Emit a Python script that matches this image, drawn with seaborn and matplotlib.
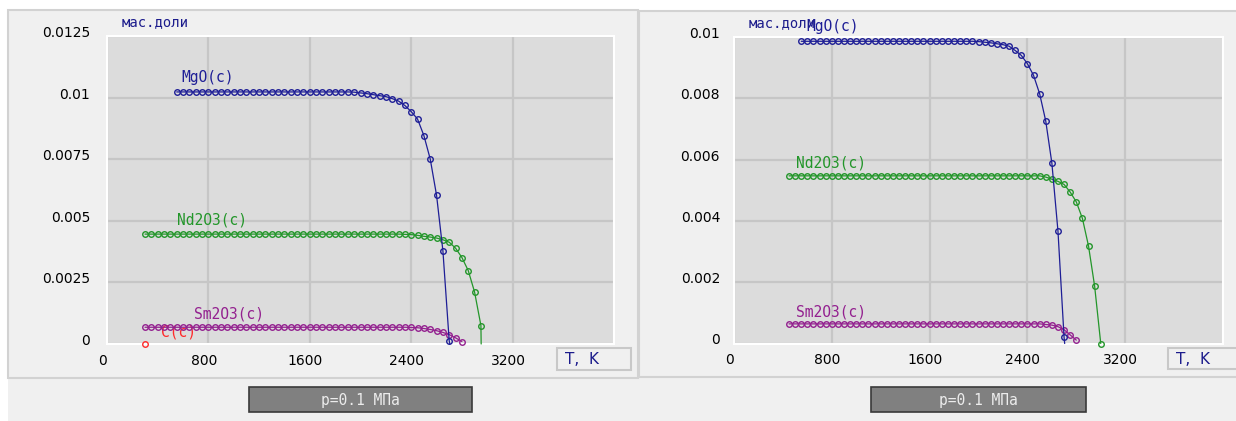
import matplotlib
matplotlib.use("Agg")
import matplotlib.pyplot as plt
import matplotlib.transforms as mtransforms
from matplotlib.patches import Rectangle
import seaborn as sns
import pandas as pd

# --- datos: fracciones masicas de fases condensadas, paso 50 K ---
# panel izquierdo
t_mgo_izq = list(range(550, 2701, 50))
mgo_izq = [0.01023, 0.01023, 0.01023, 0.01023, 0.01023, 0.01023, 0.01023, 0.01023, 0.01023, 0.01023,
           0.01023, 0.01023, 0.01023, 0.01023, 0.01023, 0.01023, 0.01023, 0.01023, 0.01023, 0.01023,
           0.01023, 0.01023, 0.01023, 0.01023, 0.01023, 0.01023, 0.01023, 0.01023, 0.01022, 0.01019,
           0.01016, 0.01012, 0.01008, 0.01004, 0.00996, 0.00986, 0.00968, 0.00943, 0.00913, 0.00846,
           0.00751, 0.00604, 0.00379, 0.00012]
t_nd_izq = list(range(300, 2951, 50))
nd_izq = [0.00446, 0.00446, 0.00446, 0.00446, 0.00446, 0.00446, 0.00446, 0.00446, 0.00446, 0.00446,
          0.00446, 0.00446, 0.00446, 0.00446, 0.00446, 0.00446, 0.00446, 0.00446, 0.00446, 0.00446,
          0.00446, 0.00446, 0.00446, 0.00446, 0.00446, 0.00446, 0.00446, 0.00446, 0.00446, 0.00446,
          0.00446, 0.00446, 0.00446, 0.00446, 0.00446, 0.00446, 0.00446, 0.00446, 0.00446, 0.00446,
          0.00446, 0.00445, 0.00444, 0.00441, 0.00437, 0.00434, 0.00430, 0.00423, 0.00413, 0.00389,
          0.00351, 0.00298, 0.00211, 0.00075]
t_sm_izq = list(range(300, 2801, 50))
sm_izq = [0.00068, 0.00068, 0.00068, 0.00068, 0.00068, 0.00068, 0.00068, 0.00068, 0.00068, 0.00068,
          0.00068, 0.00068, 0.00068, 0.00068, 0.00068, 0.00068, 0.00068, 0.00068, 0.00068, 0.00068,
          0.00068, 0.00068, 0.00068, 0.00068, 0.00068, 0.00068, 0.00068, 0.00068, 0.00068, 0.00068,
          0.00068, 0.00068, 0.00068, 0.00068, 0.00068, 0.00068, 0.00068, 0.00068, 0.00068, 0.00068,
          0.00068, 0.00068, 0.00067, 0.00066, 0.00063, 0.00059, 0.00054, 0.00047, 0.00038, 0.00025,
          0.00010]
t_c_izq = [300]
c_izq = [0.0]

# panel derecho
t_mgo_der = list(range(550, 2701, 50))
mgo_der = [0.00986, 0.00986, 0.00986, 0.00986, 0.00986, 0.00986, 0.00986, 0.00986, 0.00986, 0.00986,
           0.00986, 0.00986, 0.00986, 0.00986, 0.00986, 0.00986, 0.00986, 0.00986, 0.00986, 0.00986,
           0.00986, 0.00986, 0.00986, 0.00986, 0.00986, 0.00986, 0.00986, 0.00986, 0.00986, 0.00985,
           0.00983, 0.00981, 0.00978, 0.00975, 0.00970, 0.00956, 0.00940, 0.00913, 0.00875, 0.00815,
           0.00726, 0.00589, 0.00367, 0.00020]
t_nd_der = list(range(450, 3001, 50))
nd_der = [0.00547, 0.00547, 0.00547, 0.00547, 0.00547, 0.00547, 0.00547, 0.00547, 0.00547, 0.00547,
          0.00547, 0.00547, 0.00547, 0.00547, 0.00547, 0.00547, 0.00547, 0.00547, 0.00547, 0.00547,
          0.00547, 0.00547, 0.00547, 0.00547, 0.00547, 0.00547, 0.00547, 0.00547, 0.00547, 0.00547,
          0.00547, 0.00547, 0.00547, 0.00547, 0.00547, 0.00547, 0.00547, 0.00547, 0.00547, 0.00547,
          0.00547, 0.00547, 0.00543, 0.00536, 0.00529, 0.00519, 0.00494, 0.00462, 0.00408, 0.00318,
          0.00187, 0.0]
t_sm_der = list(range(450, 2801, 50))
sm_der = [0.00064, 0.00064, 0.00064, 0.00064, 0.00064, 0.00064, 0.00064, 0.00064, 0.00064, 0.00064,
          0.00064, 0.00064, 0.00064, 0.00064, 0.00064, 0.00064, 0.00064, 0.00064, 0.00064, 0.00064,
          0.00064, 0.00064, 0.00064, 0.00064, 0.00064, 0.00064, 0.00064, 0.00064, 0.00064, 0.00064,
          0.00064, 0.00064, 0.00064, 0.00064, 0.00064, 0.00064, 0.00064, 0.00064, 0.00064, 0.00064,
          0.00064, 0.00064, 0.00062, 0.00060, 0.00055, 0.00045, 0.00028, 0.00011]

# tramos finales sin marcador (la fase desaparece)
cola_mgo_izq = ([2705], [0.0])
cola_nd_izq = ([2952], [0.0])
cola_mgo_der = ([2705], [0.0])

x_ticks = [0, 800, 1600, 2400, 3200]
y_ticks_izq = [0, 0.0025, 0.005, 0.0075, 0.01, 0.0125]
y_labels_izq = ["0", "0.0025", "0.005", "0.0075", "0.01", "0.0125"]
y_ticks_der = [0, 0.002, 0.004, 0.006, 0.008, 0.01]
y_labels_der = ["0", "0.002", "0.004", "0.006", "0.008", "0.01"]

colores = {"MgO(c)": "#1e1e96", "Nd2O3(c)": "#23962a", "Sm2O3(c)": "#93208f", "C(c)": "#ff2a2a"}
azul_texto = "#1c1c8c"

# --- estilo ---
sns.set_style("whitegrid", {"axes.facecolor": "#dcdcdc", "grid.color": "#c6c6c6",
                            "axes.edgecolor": "white"})
plt.rcParams["font.family"] = ["DejaVu Sans"]

W, H = 1236, 421
fig = plt.figure(figsize=(W / 100, H / 100), dpi=100, facecolor="white")


def caja(x0, y0, x1, y1, **kw):
    # rectangulo en pixeles (origen arriba a la izquierda)
    fig.patches.append(Rectangle((x0 / W, 1 - y1 / H), (x1 - x0) / W, (y1 - y0) / H,
                                 transform=fig.transFigure, **kw))


# fondos de los paneles (por debajo de los ejes)
caja(8, 378, 1236, 421, facecolor="#f0f0f0", edgecolor="none", zorder=-2)
caja(8, 10, 638, 378, facecolor="#f0f0f0", edgecolor="#d2d2d2", lw=1.5, zorder=-1)
caja(639, 11, 1240, 377, facecolor="#f0f0f0", edgecolor="#d2d2d2", lw=1.5, zorder=-1)


def curva(ax, t, v, nombre, cola=None):
    n = len(t)
    xs, ys = list(t), list(v)
    if cola is not None:
        xs += cola[0]
        ys += cola[1]
    df = pd.DataFrame({"T": xs, "w": ys})
    c = colores[nombre]
    sns.lineplot(data=df, x="T", y="w", ax=ax, color=c, lw=0.9, marker="o", markersize=4.0,
                 mfc="none", mec=c, mew=1.0, markevery=list(range(n)), sort=False,
                 estimator=None, zorder=3, clip_on=False)


def panel(px, y_max, y_ticks, y_labels, dx_lab):
    x0, y0, x1, y1 = px
    ax = fig.add_axes([x0 / W, 1 - y1 / H, (x1 - x0) / W, (y1 - y0) / H])
    ax.set_xlim(0, 4000)
    ax.set_ylim(0, y_max)
    ax.set_xticks(x_ticks)
    ax.set_yticks(y_ticks)
    ax.set_yticklabels(y_labels)
    ax.grid(True, color="#c6c6c6", lw=1.6)
    ax.set_axisbelow(True)
    for s in ax.spines.values():
        s.set_color("white")
        s.set_linewidth(1.5)
    ax.tick_params(length=0, labelsize=10, labelcolor="black")
    ax.tick_params(axis="x", pad=7)
    ax.tick_params(axis="y", pad=dx_lab)
    # desplazamientos de las etiquetas como en el original
    arriba = mtransforms.ScaledTranslation(0, 4.5 / 100, fig.dpi_scale_trans)
    izquierda = mtransforms.ScaledTranslation(-4.5 / 100, 0, fig.dpi_scale_trans)
    for lab in ax.get_yticklabels():
        lab.set_transform(lab.get_transform() + arriba)
    for lab in ax.get_xticklabels():
        lab.set_transform(lab.get_transform() + izquierda)
    return ax


mono = "DejaVu Sans Mono"

# ==============================================================================
# PANEL IZQUIERDO
# ==============================================================================
ax1 = panel((107, 36, 614, 344), 0.0125, y_ticks_izq, y_labels_izq, 12)
ax1.text(425, 0.00049, "C(c)", color=colores["C(c)"], fontsize=10.5, family=mono,
         va="center", zorder=2)
curva(ax1, t_c_izq, c_izq, "C(c)")
curva(ax1, t_sm_izq, sm_izq, "Sm2O3(c)")
curva(ax1, t_nd_izq, nd_izq, "Nd2O3(c)", cola_nd_izq)
curva(ax1, t_mgo_izq, mgo_izq, "MgO(c)", cola_mgo_izq)
ax1.text(590, 0.0108, "MgO(c)", color=colores["MgO(c)"], fontsize=10.5, family=mono, va="center")
ax1.text(550, 0.00503, "Nd2O3(c)", color=colores["Nd2O3(c)"], fontsize=10.5, family=mono, va="center")
ax1.text(684, 0.00122, "Sm2O3(c)", color=colores["Sm2O3(c)"], fontsize=10.5, family=mono, va="center")
ax1.set_xlabel("")
ax1.set_ylabel("")

# ==============================================================================
# PANEL DERECHO
# ==============================================================================
ax2 = panel((734, 37, 1223, 343.5), 0.01, y_ticks_der, y_labels_der, 10)
curva(ax2, t_sm_der, sm_der, "Sm2O3(c)")
curva(ax2, t_nd_der, nd_der, "Nd2O3(c)")
curva(ax2, t_mgo_der, mgo_der, "MgO(c)", cola_mgo_der)
ax2.text(594, 0.01033, "MgO(c)", color=colores["MgO(c)"], fontsize=10.5, family=mono,
         va="center", clip_on=False)
ax2.text(504, 0.0059, "Nd2O3(c)", color=colores["Nd2O3(c)"], fontsize=10.5, family=mono, va="center")
ax2.text(504, 0.00102, "Sm2O3(c)", color=colores["Sm2O3(c)"], fontsize=10.5, family=mono, va="center")
ax2.set_xlabel("")
ax2.set_ylabel("")

# --- titulos de ejes, cajas "T, K" y presion ---
for xl, yl in [(122, 22), (749, 23)]:
    fig.text(xl / W, 1 - yl / H, "мас.доли", color=azul_texto, fontsize=10, family=mono,
             va="center")

caja(557, 348, 631, 370, facecolor="#f0f0f0", edgecolor="#c8c8c8", lw=1.5, zorder=1)
caja(1168, 348, 1240, 369, facecolor="#f0f0f0", edgecolor="#c8c8c8", lw=1.5, zorder=1)
for xt in [565, 1176]:
    fig.text(xt / W, 1 - 359 / H, "T,  K", color=azul_texto, fontsize=11, va="center")

for (xa, xb) in [(249, 472), (871, 1086)]:
    caja(xa, 387, xb, 412, facecolor="#808080", edgecolor="#3a3a3a", lw=1.2, zorder=1)
    fig.text((xa + xb) / 2 / W, 1 - 400 / H, "p=0.1 МПа", color="#ececec", fontsize=10.5,
             family=mono, ha="center", va="center")

plt.savefig("out.png", dpi=100, facecolor="white")
